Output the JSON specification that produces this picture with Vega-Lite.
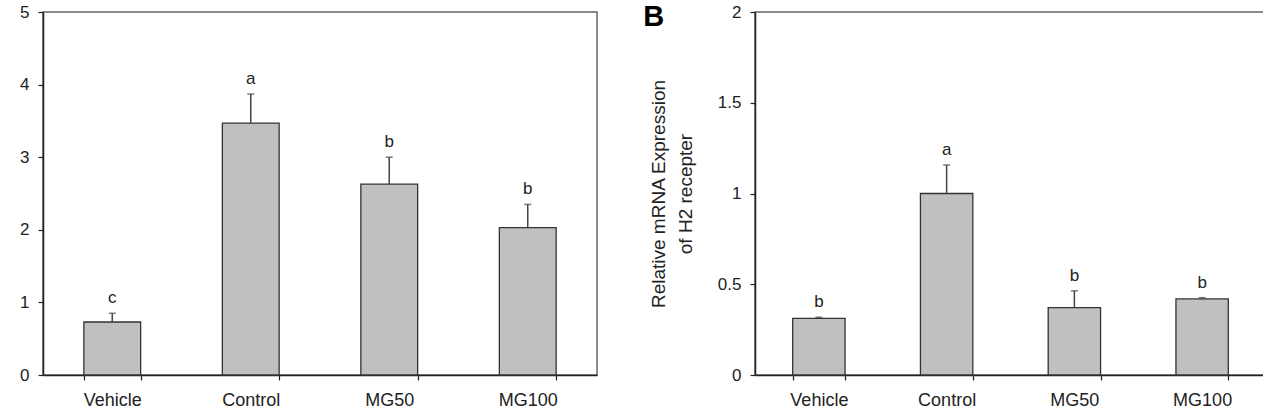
{
  "$schema": "https://vega.github.io/schema/vega-lite/v6.json",
  "background": "white",
  "padding": {"left": 0, "top": 2, "right": 0, "bottom": 0},
  "config": {
    "font": "Liberation Sans",
    "view": {"stroke": "#666", "strokeWidth": 1.5},
    "axis": {
      "domainColor": "#222", "domainWidth": 1.5, "tickColor": "#222", "tickWidth": 1.2,
      "labelColor": "#222", "labelFontSize": 17, "labelFont": "Liberation Sans",
      "grid": false, "tickSize": 5,
      "titleFont": "Liberation Sans", "titleFontWeight": "normal", "titleColor": "#222", "titleFontSize": 19
    },
    "concat": {"spacing": 44}
  },
  "datasets": {
    "panelA": [
      {"group": "Vehicle", "mean": 0.73, "upper": 0.85, "letter": "c"},
      {"group": "Control", "mean": 3.47, "upper": 3.87, "letter": "a"},
      {"group": "MG50", "mean": 2.63, "upper": 3.0, "letter": "b"},
      {"group": "MG100", "mean": 2.03, "upper": 2.35, "letter": "b"}
    ],
    "panelB": [
      {"group": "Vehicle", "mean": 0.312, "upper": 0.318, "letter": "b"},
      {"group": "Control", "mean": 1.0, "upper": 1.157, "letter": "a"},
      {"group": "MG50", "mean": 0.371, "upper": 0.464, "letter": "b"},
      {"group": "MG100", "mean": 0.419, "upper": 0.426, "letter": "b"}
    ]
  },
  "hconcat": [
    {
      "width": 554, "height": 363,
      "data": {"name": "panelA"},
      "encoding": {
        "x": {"field": "group", "type": "nominal", "sort": null,
          "scale": {"paddingInner": 0.59, "paddingOuter": 0.295},
          "axis": {"title": null, "labelAngle": 0, "tickBand": "extent", "labelPadding": 11, "labelFontSize": 18}}
      },
      "layer": [
        {"mark": {"type": "bar", "fill": "#c0c0c0", "stroke": "#333", "strokeWidth": 1.3},
         "encoding": {"y": {"field": "mean", "type": "quantitative", "scale": {"domain": [0, 5], "nice": false},
           "axis": {"values": [0, 1, 2, 3, 4, 5], "format": "~g", "title": null, "labelPadding": 9, "minExtent": 42}}}},
        {"mark": {"type": "rule", "color": "#444", "strokeWidth": 1.5},
         "encoding": {"y": {"field": "mean", "type": "quantitative"}, "y2": {"field": "upper"}}},
        {"mark": {"type": "tick", "color": "#444", "size": 7, "thickness": 1.5},
         "encoding": {"y": {"field": "upper", "type": "quantitative"}}},
        {"mark": {"type": "text", "baseline": "alphabetic", "dy": -10, "fontSize": 17, "color": "#222"},
         "encoding": {"y": {"field": "upper", "type": "quantitative"}, "text": {"field": "letter"}}}
      ]
    },
    {
      "width": 511, "height": 363,
      "title": {"text": "B", "anchor": "start", "frame": "bounds", "fontSize": 29, "fontWeight": "bold", "color": "#000", "offset": -29, "dx": -6},
      "data": {"name": "panelB"},
      "encoding": {
        "x": {"field": "group", "type": "nominal", "sort": null,
          "scale": {"paddingInner": 0.59, "paddingOuter": 0.295},
          "axis": {"title": null, "labelAngle": 0, "tickBand": "extent", "labelPadding": 11, "labelFontSize": 18}}
      },
      "layer": [
        {"mark": {"type": "bar", "fill": "#c0c0c0", "stroke": "#333", "strokeWidth": 1.3},
         "encoding": {"y": {"field": "mean", "type": "quantitative", "scale": {"domain": [0, 2], "nice": false},
           "axis": {"values": [0, 0.5, 1, 1.5, 2], "format": "~g", "labelPadding": 9,
             "title": ["Relative mRNA Expression", "of H2 recepter"], "titleLineHeight": 27, "titlePadding": 22}}}},
        {"mark": {"type": "rule", "color": "#444", "strokeWidth": 1.5},
         "encoding": {"y": {"field": "mean", "type": "quantitative"}, "y2": {"field": "upper"}}},
        {"mark": {"type": "tick", "color": "#444", "size": 7, "thickness": 1.5},
         "encoding": {"y": {"field": "upper", "type": "quantitative"}}},
        {"mark": {"type": "text", "baseline": "alphabetic", "dy": -10, "fontSize": 17, "color": "#222"},
         "encoding": {"y": {"field": "upper", "type": "quantitative"}, "text": {"field": "letter"}}}
      ]
    }
  ]
}
